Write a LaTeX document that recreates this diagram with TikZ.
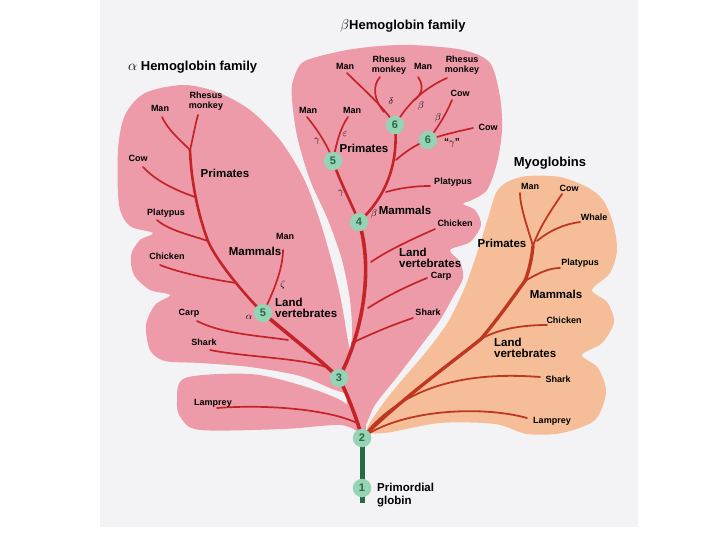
\documentclass[tikz,border=0pt]{standalone}
\usepackage{fontspec}
\setmainfont{Liberation Sans}
\definecolor{pagec}{RGB}{243,243,246}
\definecolor{pinkf}{RGB}{237,155,169}
\definecolor{orangef}{RGB}{245,190,152}
\definecolor{redb}{RGB}{196,36,40}
\definecolor{myob}{RGB}{190,55,35}
\definecolor{circf}{RGB}{150,210,180}
\definecolor{circt}{RGB}{38,105,70}
\tikzset{
  num/.style={circle, fill=circf, minimum size=18.5pt, inner sep=0pt, text=circt, font=\bfseries\fontsize{11}{11}\selectfont},
  lab/.style={font=\bfseries\fontsize{9}{9.5}\selectfont, inner sep=0pt, align=center},
  mid/.style={font=\bfseries\fontsize{11.5}{11}\selectfont, inner sep=0pt, align=left},
  ttl/.style={font=\bfseries\fontsize{13}{13}\selectfont, inner sep=0pt},
  grk/.style={font=\fontsize{10}{10}\selectfont, inner sep=0pt},
  thickb/.style={draw=redb, line width=3.6pt, line cap=round},
  medb/.style={draw=redb, line width=2.6pt, line cap=round},
  thinb/.style={draw=redb, line width=1.7pt, line cap=round},
  mthick/.style={draw=myob, line width=3.4pt, line cap=round},
  mthin/.style={draw=myob, line width=1.8pt, line cap=round}
}
\begin{document}
\begin{tikzpicture}[x=1pt,y=-1pt]
\useasboundingbox (0,0) rectangle (720,540);
\fill[white] (0,0) rectangle (720,540);
\fill[pagec] (100,0) rectangle (638,527);

% ---- blobs ----
\fill[pinkf] plot[smooth cycle] coordinates {(118,150) (125,115) (145,93) (183,85) (217,92) (250,110) (280,140) (303,177) (318,215) (330,255) (340,295) (347,335) (352,365) (352,392) (335,390) (300,376) (250,367) (200,363) (165,361) (150,350) (146,325) (155,305) (170,295) (150,290) (134,275) (131,255) (140,240) (153,233) (130,226) (119,205)};
\fill[pinkf] plot[smooth cycle] coordinates {(177,402) (185,378) (250,374) (300,385) (342,401) (365,424) (362,433) (340,425) (283,429) (200,430) (181,418)};
\fill[pinkf] plot[smooth cycle] coordinates {(292,85) (300,65) (313,58) (347,50) (380,46) (413,45) (463,50) (490,63) (500,97) (502,130) (497,163) (487,190) (472,200) (463,204) (475,210) (481,225) (470,242) (450,250) (460,262) (463,278) (453,297) (440,320) (420,347) (397,377) (375,405) (364,428) (355,425) (347,405) (348,370) (352,335) (350,300) (342,260) (328,220) (310,180) (298,140) (293,110)};
\fill[orangef] plot[smooth cycle] coordinates {(367,430) (382,405) (402,380) (426,352) (448,322) (465,287) (478,250) (488,218) (496,193) (507,182) (527,176) (560,177) (587,187) (603,200) (613,223) (617,250) (610,273) (592,290) (607,302) (614,322) (602,343) (582,355) (598,368) (606,392) (595,420) (562,433) (527,434) (495,424) (440,423) (385,433)};

% ---- numbered nodes (positions) ----
\coordinate (p1) at (362,488);
\coordinate (p2) at (362,438);
\coordinate (p3) at (339,378);
\coordinate (p4) at (359,222);
\coordinate (pa5) at (263,313);
\coordinate (pb5) at (333,161);
\coordinate (pb6) at (395,125);
\coordinate (pb6r) at (428,140);
\coordinate (pbot) at (362,503);

% ---- alpha tree ----
\coordinate (jLam) at (357,423);
\coordinate (tLam) at (217,408);
\coordinate (jSh) at (326,367);
\coordinate (tSh) at (210,350);
\coordinate (jCa) at (288,340);
\coordinate (tCa) at (197,321);
\coordinate (jCh) at (236,283);
\coordinate (tCh) at (160,265);
\coordinate (jPl) at (208,241);
\coordinate (tPl) at (157,220);
\coordinate (jCo) at (195,197);
\coordinate (tCo) at (143,167);
\coordinate (jPr) at (190,150);
\coordinate (tMa) at (162,117);
\coordinate (tRh) at (198,115);
\coordinate (tZe) at (283,250);

\draw[thickb] (p2) .. controls (356,415) and (346,392) .. (p3);
\draw[thinb] (jLam) .. controls (330,410) and (270,404) .. (tLam);
\draw[thickb] (p3) .. controls (315,355) and (285,332) .. (pa5);
\draw[thinb] (jSh) .. controls (300,358) and (245,357) .. (tSh);
\draw[thinb] (jCa) .. controls (262,336) and (222,334) .. (tCa);
\draw[medb] (pa5) .. controls (240,290) and (215,258) .. (jPl);
\draw[medb] (jPl) .. controls (198,215) and (191,180) .. (jPr);
\draw[thinb] (jCh) .. controls (210,279) and (180,273) .. (tCh);
\draw[thinb] (jPl) .. controls (190,235) and (168,230) .. (tPl);
\draw[thinb] (jCo) .. controls (175,190) and (156,181) .. (tCo);
\draw[thinb] (jPr) .. controls (180,140) and (168,130) .. (tMa);
\draw[thinb] (jPr) .. controls (193,138) and (195,125) .. (tRh);
\draw[thinb] (pa5) .. controls (272,295) and (283,270) .. (tZe);

% ---- beta tree ----
\coordinate (jbSh) at (352,343);
\coordinate (tbSh) at (413,318);
\coordinate (jbCa) at (368,308);
\coordinate (tbCa) at (427,278);
\coordinate (jbCh) at (371,262);
\coordinate (tbCh) at (435,229);
\coordinate (jbPl) at (386,192);
\coordinate (tbPl) at (430,186);
\coordinate (jb6r) at (396,160);
\coordinate (tbCo1) at (452,100);
\coordinate (tbCo2) at (473,128);
\coordinate (tbM1) at (307,117);
\coordinate (tbM2) at (348,117);
\coordinate (tbM3) at (347,73);
\coordinate (jbRh) at (384,112);
\coordinate (tbRh) at (380,77);
\coordinate (tbRh2) at (447,78);
\coordinate (jbM4) at (413,101);
\coordinate (tbM4) at (418,77);

\draw[thickb] (p3) .. controls (362,335) and (374,270) .. (p4);
\draw[thinb] (jbSh) .. controls (375,332) and (395,324) .. (tbSh);
\draw[thinb] (jbCa) .. controls (390,294) and (410,285) .. (tbCa);
\draw[thinb] (jbCh) .. controls (390,249) and (415,238) .. (tbCh);
\draw[medb] (p4) .. controls (350,200) and (340,182) .. (pb5);
\draw[medb] (p4) .. controls (382,200) and (399,170) .. (pb6);
\draw[thinb] (jbPl) .. controls (400,188) and (415,186) .. (tbPl);
\draw[thinb] (jb6r) .. controls (405,152) and (415,145) .. (pb6r);
\draw[thinb] (pb6r) .. controls (440,125) and (448,110) .. (tbCo1);
\draw[thinb] (pb6r) .. controls (445,134) and (460,131) .. (tbCo2);
\draw[thinb] (pb5) .. controls (328,145) and (316,128) .. (tbM1);
\draw[thinb] (pb5) .. controls (336,145) and (340,128) .. (tbM2);
\draw[thinb] (pb6) .. controls (385,108) and (362,88) .. (tbM3);
\draw[thinb] (jbRh) .. controls (374,100) and (372,86) .. (tbRh);
\draw[thinb] (pb6) .. controls (405,108) and (420,90) .. (tbRh2);
\draw[thinb] (jbM4) .. controls (424,94) and (423,84) .. (tbM4);

% ---- myoglobin tree ----
\coordinate (jmCh) at (481,339);
\coordinate (jmPl) at (525,281);
\coordinate (jmPr) at (533,246);
\coordinate (jmWh) at (537,241);
\coordinate (tmMa) at (520,193);
\coordinate (tmCo) at (562,194);
\coordinate (tmWh) at (580,222);
\coordinate (tmPl) at (560,268);
\coordinate (tmCh) at (547,325);
\coordinate (tmSh) at (540,377);
\coordinate (tmLa) at (527,418);

\draw[mthick] (p2) .. controls (400,400) and (455,360) .. (jmCh);
\draw[mthick] (jmCh) .. controls (505,310) and (518,290) .. (jmPl);
\draw[mthick] (jmPl) .. controls (530,268) and (532,256) .. (jmPr);
\draw[mthin] (jmPr) .. controls (527,226) and (520,206) .. (tmMa);
\draw[mthin] (jmPr) .. controls (540,225) and (555,205) .. (tmCo);
\draw[mthin] (jmWh) .. controls (550,230) and (565,224) .. (tmWh);
\draw[mthin] (jmPl) .. controls (540,272) and (550,268) .. (tmPl);
\draw[mthin] (jmCh) .. controls (500,328) and (525,325) .. (tmCh);
\draw[mthin] (p2) .. controls (395,395) and (450,370) .. (tmSh);
\draw[mthin] (p2) .. controls (400,410) and (480,405) .. (tmLa);

% ---- green stem and numbered circles ----
\draw[draw=circt, line width=5pt] (p2) -- (pbot);
\node[num] (n1) at (p1) {1};
\node[num] (n2) at (p2) {2};
\node[num] (n3) at (p3) {3};
\node[num] (n4) at (p4) {4};
\node[num] (na5) at (pa5) {5};
\node[num] (nb5) at (pb5) {5};
\node[num] (nb6) at (pb6) {6};
\node[num] (nb6r) at (pb6r) {6};

% ---- titles ----
\node[ttl, anchor=west] (tAlpha) at (128,67) {{\mdseries\fontsize{14}{14}\selectfont$\alpha$} Hemoglobin family};
\node[ttl] (tBeta) at (403,26) {{\mdseries\fontsize{14}{14}\selectfont$\beta$}Hemoglobin family};
\node[ttl] (tMyo) at (550,163) {Myoglobins};

% ---- alpha labels ----
\node[lab] (laMan) at (160,108) {Man};
\node[lab] (laRh) at (206,101) {Rhesus\\monkey};
\node[lab] (laCow) at (138,158) {Cow};
\node[mid] (laPri) at (225,173) {Primates};
\node[lab] (laPla) at (166,213) {Platypus};
\node[lab] (laChi) at (167,256) {Chicken};
\node[mid] (laMam) at (255,251) {Mammals};
\node[lab] (laMan2) at (285,236) {Man};
\node[grk] (laZe) at (283,285) {$\zeta$};
\node[grk] (laAl) at (249,317) {$\alpha$};
\node[mid, anchor=west] (laLand) at (275,308) {Land\\vertebrates};
\node[lab] (laCarp) at (189,313) {Carp};
\node[lab] (laSh) at (204,342) {Shark};
\node[lab] (laLam) at (213,403) {Lamprey};

% ---- beta labels ----
\node[lab] (lbMan1) at (345,66) {Man};
\node[lab] (lbRh1) at (389,65) {Rhesus\\monkey};
\node[lab] (lbMan2) at (423,66) {Man};
\node[lab] (lbRh2) at (462,65) {Rhesus\\monkey};
\node[lab] (lbCow1) at (460,93) {Cow};
\node[lab] (lbCow2) at (488,127) {Cow};
\node[lab] (lbMan3) at (308,110) {Man};
\node[lab] (lbMan4) at (352,110) {Man};
\node[grk] (lbDe) at (391,101) {$\delta$};
\node[grk] (lbBe1) at (421,106) {$\beta$};
\node[grk] (lbBe2) at (438,118) {$\beta$};
\node[grk] (lbGq) at (452,143) {\bfseries``$\gamma$''};
\node[grk] (lbGa1) at (317,141) {$\gamma$};
\node[grk] (lbEp) at (345,134) {$\varepsilon$};
\node[mid] (lbPri) at (364,148) {Primates};
\node[grk] (lbGa2) at (341,193) {$\gamma$};
\node[grk] (lbBe3) at (374,214) {$\beta$};
\node[mid] (lbMam) at (405,210) {Mammals};
\node[lab] (lbPla) at (453,182) {Platypus};
\node[lab] (lbChi) at (455,223) {Chicken};
\node[mid, anchor=west] (lbLand) at (399,258) {Land\\vertebrates};
\node[lab] (lbCarp) at (441,276) {Carp};
\node[lab] (lbSh) at (428,312) {Shark};

% ---- myoglobin labels ----
\node[lab] (lmMan) at (530,186) {Man};
\node[lab] (lmCow) at (569,188) {Cow};
\node[lab] (lmWh) at (594,217) {Whale};
\node[mid] (lmPri) at (502,243) {Primates};
\node[lab] (lmPla) at (580,263) {Platypus};
\node[mid] (lmMam) at (556,294) {Mammals};
\node[lab] (lmChi) at (564,320) {Chicken};
\node[mid, anchor=west] (lmLand) at (494,348) {Land\\vertebrates};
\node[lab] (lmSh) at (558,379) {Shark};
\node[lab] (lmLam) at (552,421) {Lamprey};

% ---- primordial ----
\node[mid, anchor=west] (lPrim) at (377,495) {Primordial\\[2pt]globin};
\end{tikzpicture}
\end{document}
